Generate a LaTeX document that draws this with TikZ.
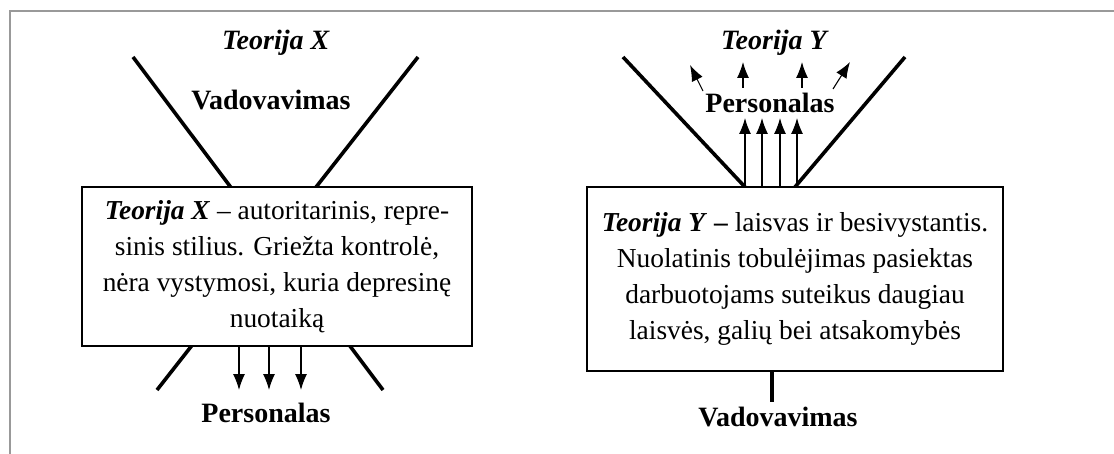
\documentclass[tikz,border=0pt]{standalone}
\usepackage{fontspec}
\setmainfont{Liberation Serif}
\usetikzlibrary{arrows.meta}
\tikzset{thickline/.style={line width=1.8pt,line cap=butt}}

\begin{document}
\begin{tikzpicture}[x=0.5pt,y=-0.5pt]
\tikzset{textbox/.style={draw=black,line width=0.6pt,fill=white,align=center,inner sep=0pt,font=\fontsize{13.7}{18}\selectfont}}
\tikzset{headtext/.style={font=\fontsize{14}{16}\selectfont\bfseries}}
\tikzset{arrowline/.style={-{Latex[length=8pt,width=6pt]},line width=0.55pt}}
\useasboundingbox (0,0) rectangle (1114,454);
\draw[gray!80,line width=0.6pt] (10,454) -- (10,11) -- (1114,11);

% Teorija X
\coordinate (xa) at (133,57);
\coordinate (xb) at (418,57);
\coordinate (xc) at (157,390);
\coordinate (xd) at (383,390);
\draw[thickline] (xa) -- (xd);
\draw[thickline] (xb) -- (xc);
\node[headtext] (titleX) at (276,43) {\textit{Teorija X}};
\node[headtext] (leadX) at (271,100) {Vadovavimas};
\node[textbox,minimum width=195pt,minimum height=79.5pt] (boxX) at (277,266.5)
  {\textbf{\textit{Teorija X}} – autoritarinis, repre-\\sinis stilius. Griežta kontrolė,\\nėra vystymosi, kuria depresinę\\nuotaiką};
\foreach \x [count=\i] in {239,269,301} {
  \coordinate (dn\i) at (\x,390);
  \draw[arrowline] (boxX.south -| dn\i) -- (dn\i);
}
\node[headtext] (staffX) at (266,413) {Personalas};

% Teorija Y
\coordinate (ya) at (623,57);
\coordinate (yb) at (745,187);
\coordinate (yc) at (905,57);
\coordinate (yd) at (795,187);
\draw[thickline] (ya) -- (yb);
\draw[thickline] (yc) -- (yd);
\node[headtext] (titleY) at (775,43) {\textit{Teorija Y}};
\node[headtext] (staffY) at (770,103) {Personalas};
\node[textbox,minimum width=208pt,minimum height=92pt] (boxY) at (795,279)
  {\textbf{\textit{Teorija Y} –} laisvas ir besivystantis.\\Nuolatinis tobulėjimas pasiektas\\darbuotojams suteikus daugiau\\laisvės, galių bei atsakomybės};
\foreach \x [count=\i] in {745,762,780,797} {
  \coordinate (up\i) at (\x,118);
  \draw[arrowline] (boxY.north -| up\i) -- (up\i);
}
\coordinate (s1) at (703,91); \coordinate (t1) at (690,65);
\coordinate (s2) at (743,88); \coordinate (t2) at (743,62);
\coordinate (s3) at (802,88); \coordinate (t3) at (802,62);
\coordinate (s4) at (833,89); \coordinate (t4) at (850,62);
\foreach \i in {1,...,4}
  \draw[arrowline] (s\i) -- (t\i);
\coordinate (stem) at (772,402);
\draw[thickline] (boxY.south -| stem) -- (stem);
\node[headtext] (leadY) at (778,417) {Vadovavimas};
\end{tikzpicture}
\end{document}
